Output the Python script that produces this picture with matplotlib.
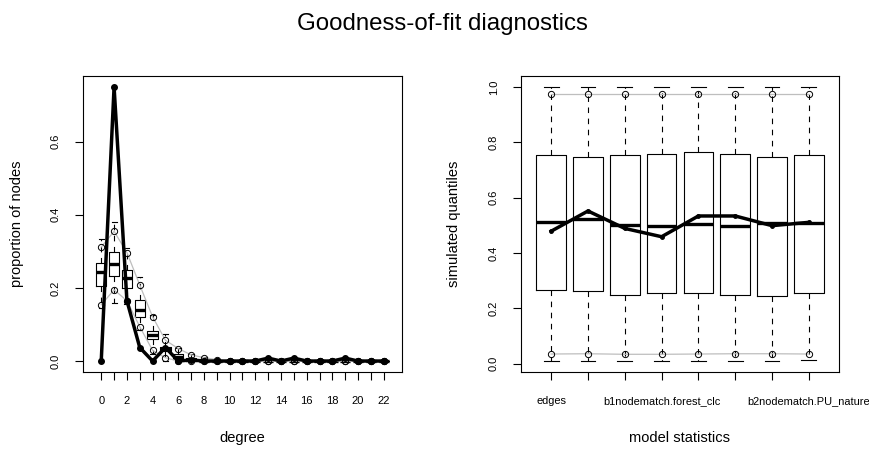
import matplotlib
matplotlib.use("Agg")
import matplotlib.pyplot as plt

plt.rcParams['font.family'] = ['Liberation Sans', 'DejaVu Sans']

# degree panel
degree = list(range(23))
deg_q1 = [0.206, 0.234, 0.199, 0.121, 0.060, 0.027, 0.006, 0.000, 0.000, 0.000, 0, 0, 0, 0, 0, 0, 0, 0, 0, 0, 0, 0, 0]
deg_med = [0.243, 0.266, 0.226, 0.140, 0.071, 0.032, 0.012, 0.004, 0.000, 0.000, 0, 0, 0, 0, 0, 0, 0, 0, 0, 0, 0, 0, 0]
deg_q3 = [0.267, 0.298, 0.248, 0.168, 0.083, 0.038, 0.018, 0.008, 0.003, 0.000, 0, 0, 0, 0, 0, 0, 0, 0, 0, 0, 0, 0, 0]
deg_lo = [0.145, 0.160, 0.155, 0.085, 0.020, 0.000, 0.000, 0.000, 0.000, 0.000, 0, 0, 0, 0, 0, 0, 0, 0, 0, 0, 0, 0, 0]
deg_hi = [0.333, 0.380, 0.310, 0.231, 0.125, 0.073, 0.036, 0.020, 0.010, 0.005, 0, 0, 0, 0, 0, 0, 0, 0, 0, 0, 0, 0, 0]
deg_upper = [0.312, 0.355, 0.297, 0.208, 0.121, 0.057, 0.034, 0.017, 0.009, 0.004, 0, 0, 0, 0, 0, 0, 0, 0, 0, 0, 0, 0, 0]
deg_lower = [0.154, 0.195, 0.165, 0.094, 0.029, 0.009, 0, 0, 0, 0, 0, 0, 0, 0, 0, 0, 0, 0, 0, 0, 0, 0, 0]
deg_obs = [0.0, 0.75, 0.165, 0.037, 0.0, 0.037, 0.0, 0.003, 0, 0, 0, 0, 0, 0.008, 0, 0.008, 0, 0, 0, 0.008, 0, 0, 0]

# model statistics panel
stat_pos = [1, 2, 3, 4, 5, 6, 7, 8]
stat_labels = ["edges", "", "", "b1nodematch.forest_clc", "", "", "", "b2nodematch.PU_nature"]
st_q1 = [0.266, 0.262, 0.250, 0.254, 0.254, 0.250, 0.245, 0.254]
st_med = [0.511, 0.522, 0.500, 0.496, 0.504, 0.496, 0.508, 0.507]
st_q3 = [0.754, 0.746, 0.754, 0.758, 0.764, 0.758, 0.749, 0.755]
st_lo = [0.011, 0.011, 0.011, 0.011, 0.011, 0.011, 0.011, 0.015]
st_hi = [1.0, 1.0, 1.0, 1.0, 1.0, 1.0, 1.0, 1.0]
st_upper = [0.976, 0.976, 0.976, 0.976, 0.976, 0.976, 0.976, 0.976]
st_lower = [0.035, 0.036, 0.034, 0.034, 0.035, 0.036, 0.036, 0.035]
st_obs = [0.479, 0.552, 0.489, 0.459, 0.534, 0.534, 0.499, 0.511]


def draw_panel(ax, pos, q1, med, q3, lo, hi, upper, lower, obs, obs_ms):
    stats = []
    for i in range(len(pos)):
        stats.append({'q1': q1[i], 'med': med[i], 'q3': q3[i],
                      'whislo': lo[i], 'whishi': hi[i], 'fliers': []})
    ax.bxp(stats, positions=pos, widths=0.8, showfliers=False,
           boxprops=dict(color='black', lw=0.8),
           medianprops=dict(color='black', lw=2.4, solid_capstyle='butt'),
           whiskerprops=dict(color='black', lw=0.8, linestyle=(0, (5, 5))),
           capprops=dict(color='black', lw=0.8), capwidths=0.4)
    ax.plot(pos, upper, color='#bebebe', lw=0.9, zorder=3)
    ax.plot(pos, lower, color='#bebebe', lw=0.9, zorder=3)
    ax.plot(pos, upper, 'o', ms=4.5, mfc='none', mec='black', mew=0.7, zorder=4)
    ax.plot(pos, lower, 'o', ms=4.5, mfc='none', mec='black', mew=0.7, zorder=4)
    ax.plot(pos, obs, color='black', lw=2.5, marker='o', ms=obs_ms, zorder=5)
    for s in ax.spines.values():
        s.set_linewidth(0.8)
    ax.tick_params(axis='both', direction='out', length=6, width=0.8, labelsize=8)
    ax.tick_params(axis='y', pad=10)
    ax.tick_params(axis='x', pad=11.5)


fig = plt.figure(figsize=(8.7, 4.51), dpi=100)
ax1 = fig.add_axes([83 / 870, 1 - 372 / 451, 319 / 870, 296 / 451])
ax2 = fig.add_axes([521 / 870, 1 - 372 / 451, 318 / 870, 296 / 451])

draw_panel(ax1, degree, deg_q1, deg_med, deg_q3, deg_lo, deg_hi, deg_upper, deg_lower, deg_obs, 4)
ax1.set_xlim(-1.42, 23.42)
ax1.set_ylim(-0.03, 0.78)
ax1.set_xticks(degree)
ax1.set_xticklabels([str(d) if d % 2 == 0 else "" for d in degree])
ax1.set_yticks([0.0, 0.2, 0.4, 0.6])
ax1.set_yticklabels(["0.0", "0.2", "0.4", "0.6"], rotation=90, va='center')
ax1.set_xlabel("degree", fontsize=10.5)
ax1.set_ylabel("proportion of nodes", fontsize=10.5)
ax1.xaxis.set_label_coords(0.5, -0.2)
ax1.yaxis.set_label_coords(-0.185, 0.5)

draw_panel(ax2, stat_pos, st_q1, st_med, st_q3, st_lo, st_hi, st_upper, st_lower, st_obs, 2.5)
ax2.set_xlim(0.18, 8.82)
ax2.set_ylim(-0.03, 1.04)
ax2.set_xticks(stat_pos)
ax2.set_xticklabels(stat_labels, fontsize=7.9)
ax2.set_yticks([0.0, 0.2, 0.4, 0.6, 0.8, 1.0])
ax2.set_yticklabels(["0.0", "0.2", "0.4", "0.6", "0.8", "1.0"], rotation=90, va='center')
ax2.set_xlabel("model statistics", fontsize=10.5)
ax2.set_ylabel("simulated quantiles", fontsize=10.5)
ax2.xaxis.set_label_coords(0.5, -0.2)
ax2.yaxis.set_label_coords(-0.19, 0.5)

fig.text(0.508, 1 - 24 / 451, "Goodness-of-fit diagnostics", ha='center', va='center', fontsize=17.3)

fig.savefig("out.png", dpi=100)
